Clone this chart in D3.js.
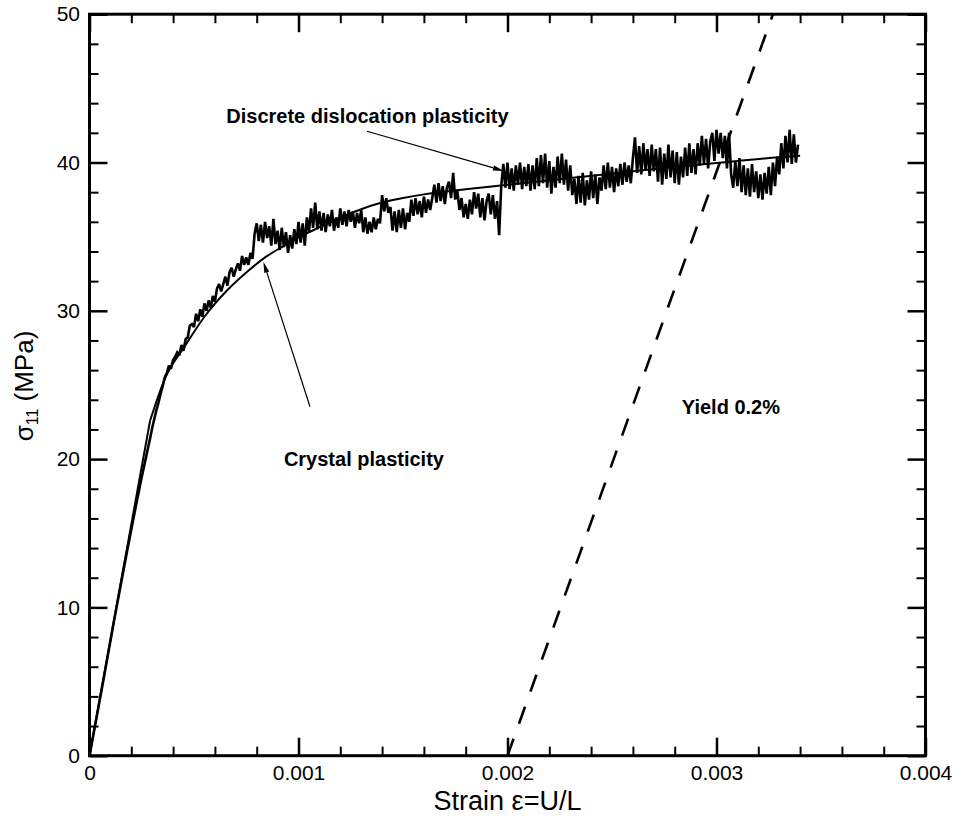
<!DOCTYPE html>
<html>
<head>
<meta charset="utf-8">
<script src="https://cdn.jsdelivr.net/npm/d3@7"></script>
<style>
  html, body { margin: 0; padding: 0; background: #fff; }
  svg { display: block; }
</style>
</head>
<body>
<svg id="chart" width="953" height="816"></svg>
<script>
// ---- axis ticks ----
const xMajorTicks = [0, 0.001, 0.002, 0.003, 0.004];
const xTickLabels = ["0", "0.001", "0.002", "0.003", "0.004"];
const xMinorTicks = [0.0002, 0.0004, 0.0006, 0.0008, 0.0012, 0.0014, 0.0016, 0.0018,
                     0.0022, 0.0024, 0.0026, 0.0028, 0.0032, 0.0034, 0.0036, 0.0038];
const yMajorTicks = [0, 10, 20, 30, 40, 50];
const yTickLabels = ["0", "10", "20", "30", "40", "50"];
const yMinorTicks = [2, 4, 6, 8, 12, 14, 16, 18, 22, 24, 26, 28, 32, 34, 36, 38, 42, 44, 46, 48];

// ---- crystal plasticity (smooth) : [strain, stress MPa] ----
// first segment is the linear elastic branch, the rest is the hardening curve
const crystalPlasticity = [
  [0, 0], [0.00029, 22.6], [0.00036, 25.4], [0.00046, 27.7], [0.00055, 29.6],
  [0.00066, 31.4], [0.00076, 32.7], [0.00084, 33.6], [0.00092, 34.3], [0.001, 34.95],
  [0.00108, 35.5], [0.0012, 36.3], [0.0013, 36.85], [0.0014, 37.3], [0.0015, 37.6],
  [0.0016, 37.85], [0.0018, 38.2], [0.002, 38.5], [0.0023, 38.95], [0.0025, 39.25],
  [0.0028, 39.7], [0.0031, 40.1], [0.0033, 40.35], [0.0034, 40.45]
];

// ---- discrete dislocation plasticity (noisy) : [strain, stress MPa] ----
const discreteDislocation = [
  [0, 0], [0.00006, 4.6], [0.00012, 9.3], [0.00018, 13.8], [0.00022, 16.7], [0.00025, 18.8],
  [0.00027, 20.1], [0.00029, 21.4], [0.0003, 22.1], [0.00031, 22.7], [0.00032, 23.3],
  [0.00033, 23.8], [0.00034, 24.4], [0.00035, 24.9], [0.00036, 25.5], [0.00037, 25.8],
  [0.00038, 26.3], [0.00039, 26.1], [0.0004, 26.7], [0.00041, 26.9], [0.00042, 27.2],
  [0.00043, 27.0], [0.00044, 27.7], [0.00045, 27.3], [0.00046, 28.1], [0.00047, 28.2],
  [0.00048, 29.0], [0.00049, 29.1], [0.0005, 28.9], [0.00051, 29.8], [0.00052, 29.3],
  [0.00053, 30.1], [0.00054, 29.6], [0.00055, 30.5], [0.00056, 30.0], [0.00057, 30.7],
  [0.00058, 30.2], [0.00059, 31.0], [0.0006, 30.6], [0.00061, 31.5], [0.00062, 31.8],
  [0.00063, 31.3], [0.00064, 31.8], [0.00065, 32.3], [0.00066, 31.7], [0.00067, 32.6],
  [0.00068, 32.9], [0.00069, 32.3], [0.0007, 32.8], [0.00071, 33.2], [0.00072, 32.7],
  [0.00073, 33.7], [0.00074, 33.1], [0.00075, 33.6], [0.00076, 33.1], [0.00077, 33.9],
  [0.00078, 33.5], [0.00079, 35.2], [0.0008, 35.9], [0.00081, 34.7], [0.00082, 35.8],
  [0.00083, 34.6], [0.00084, 36.0], [0.00085, 34.9], [0.00086, 35.7], [0.00087, 34.4],
  [0.00088, 36.2], [0.00089, 34.5], [0.0009, 35.4], [0.00091, 34.1], [0.00092, 35.6],
  [0.00093, 34.3], [0.00094, 35.3], [0.00095, 33.9], [0.00096, 35.1], [0.00097, 34.2],
  [0.00098, 35.5], [0.00099, 34.5], [0.001, 36.0], [0.00101, 34.6], [0.00102, 35.9],
  [0.00103, 34.4], [0.00104, 36.3], [0.00105, 35.3], [0.00106, 36.9], [0.00107, 35.6],
  [0.00108, 37.3], [0.00109, 35.5], [0.0011, 36.7], [0.00111, 35.4], [0.00112, 36.6],
  [0.00113, 35.3], [0.00114, 36.5], [0.00115, 35.7], [0.00116, 36.8], [0.00117, 35.4],
  [0.00118, 36.3], [0.00119, 35.6], [0.0012, 36.9], [0.00121, 35.8], [0.00122, 36.7],
  [0.00123, 35.7], [0.00124, 36.8], [0.00125, 36.0], [0.00126, 36.7], [0.00127, 35.6],
  [0.00128, 36.6], [0.00129, 35.9], [0.0013, 36.8], [0.00131, 35.3], [0.00132, 36.3],
  [0.00133, 35.2], [0.00134, 36.0], [0.00135, 35.3], [0.00136, 36.3], [0.00137, 35.5],
  [0.00138, 36.2], [0.00139, 35.9], [0.0014, 37.8], [0.00141, 36.7], [0.00142, 37.6],
  [0.00143, 36.6], [0.00144, 37.0], [0.00145, 35.4], [0.00146, 36.7], [0.00147, 35.3],
  [0.00148, 36.8], [0.00149, 35.6], [0.0015, 36.9], [0.00151, 35.5], [0.00152, 36.6],
  [0.00153, 36.0], [0.00154, 37.5], [0.00155, 36.4], [0.00156, 37.6], [0.00157, 36.5],
  [0.00158, 37.4], [0.00159, 36.3], [0.0016, 37.7], [0.00161, 36.6], [0.00162, 37.5],
  [0.00163, 36.8], [0.00164, 37.6], [0.00165, 38.5], [0.00166, 37.3], [0.00167, 38.6],
  [0.00168, 37.4], [0.00169, 38.4], [0.0017, 37.2], [0.00171, 38.3], [0.00172, 38.7],
  [0.00173, 37.6], [0.00174, 39.3], [0.00175, 37.5], [0.00176, 38.1], [0.00177, 36.8],
  [0.00178, 37.6], [0.00179, 36.3], [0.0018, 37.2], [0.00181, 36.2], [0.00182, 37.5],
  [0.00183, 36.5], [0.00184, 38.0], [0.00185, 36.9], [0.00186, 37.9], [0.00187, 36.3],
  [0.00188, 37.6], [0.00189, 36.1], [0.0019, 37.4], [0.00191, 37.9], [0.00192, 36.5],
  [0.00193, 37.8], [0.00194, 36.2], [0.00195, 37.4], [0.00196, 35.1], [0.00197, 38.4],
  [0.00198, 39.9], [0.00199, 38.3], [0.002, 40.0], [0.00201, 38.2], [0.00202, 39.6],
  [0.00203, 38.1], [0.00204, 39.8], [0.00205, 38.5], [0.00206, 40.0], [0.00207, 38.2],
  [0.00208, 39.7], [0.00209, 38.4], [0.0021, 39.9], [0.00211, 38.1], [0.00212, 39.8],
  [0.00213, 38.2], [0.00214, 40.3], [0.00215, 38.4], [0.00216, 40.5], [0.00217, 38.6],
  [0.00218, 40.6], [0.00219, 38.3], [0.0022, 40.1], [0.00221, 37.9], [0.00222, 39.7],
  [0.00223, 38.3], [0.00224, 40.4], [0.00225, 38.6], [0.00226, 40.6], [0.00227, 38.5],
  [0.00228, 40.2], [0.00229, 38.1], [0.0023, 39.8], [0.00231, 37.8], [0.00232, 38.9],
  [0.00233, 37.2], [0.00234, 39.1], [0.00235, 37.3], [0.00236, 39.3], [0.00237, 37.1],
  [0.00238, 38.8], [0.00239, 37.5], [0.0024, 39.4], [0.00241, 37.6], [0.00242, 39.2],
  [0.00243, 37.2], [0.00244, 39.0], [0.00245, 38.1], [0.00246, 39.8], [0.00247, 38.2],
  [0.00248, 40.0], [0.00249, 38.3], [0.0025, 39.7], [0.00251, 38.0], [0.00252, 39.6],
  [0.00253, 38.4], [0.00254, 39.9], [0.00255, 38.5], [0.00256, 40.0], [0.00257, 38.7],
  [0.00258, 39.8], [0.00259, 38.6], [0.0026, 40.3], [0.00261, 41.7], [0.00262, 39.3],
  [0.00263, 41.1], [0.00264, 39.2], [0.00265, 41.3], [0.00266, 39.5], [0.00267, 40.9],
  [0.00268, 39.1], [0.00269, 41.2], [0.0027, 39.4], [0.00271, 40.9], [0.00272, 38.7],
  [0.00273, 41.0], [0.00274, 38.5], [0.00275, 40.6], [0.00276, 38.9], [0.00277, 41.2],
  [0.00278, 39.0], [0.00279, 40.8], [0.0028, 38.6], [0.00281, 40.7], [0.00282, 38.5],
  [0.00283, 40.4], [0.00284, 39.0], [0.00285, 41.0], [0.00286, 39.1], [0.00287, 41.3],
  [0.00288, 39.3], [0.00289, 40.9], [0.0029, 39.2], [0.00291, 41.3], [0.00292, 39.8],
  [0.00293, 41.8], [0.00294, 39.9], [0.00295, 41.6], [0.00296, 39.6], [0.00297, 41.4],
  [0.00298, 42.0], [0.00299, 40.1], [0.003, 42.2], [0.00301, 40.6], [0.00302, 42.0],
  [0.00303, 40.3], [0.00304, 41.8], [0.00305, 39.6], [0.00306, 42.0], [0.00307, 39.2],
  [0.00308, 38.3], [0.00309, 40.1], [0.0031, 38.4], [0.00311, 40.3], [0.00312, 38.0],
  [0.00313, 39.8], [0.00314, 37.8], [0.00315, 39.6], [0.00316, 37.7], [0.00317, 39.9],
  [0.00318, 38.0], [0.00319, 39.4], [0.0032, 37.6], [0.00321, 39.2], [0.00322, 37.5],
  [0.00323, 39.3], [0.00324, 37.9], [0.00325, 39.7], [0.00326, 37.8], [0.00327, 40.0],
  [0.00328, 38.4], [0.00329, 40.4], [0.0033, 39.2], [0.00331, 41.3], [0.00332, 39.6],
  [0.00333, 41.8], [0.00334, 40.0], [0.00335, 42.2], [0.00336, 39.9], [0.00337, 41.9],
  [0.00338, 40.0], [0.00339, 41.2]
];

// ---- 0.2% offset yield line ----
const yieldOffsetLine = [[0.002, 0], [0.00327, 50]];

// ---- annotation text and leader arrows (data coordinates) ----
const labelTexts = ["Discrete dislocation plasticity", "Crystal plasticity", "Yield 0.2%"];
const labelPositions = [[0.00133, 42.65], [0.001313, 19.55], [0.003069, 23.05]];
const arrowStarts = [[0.001328, 42.11], [0.001055, 23.53]];
const arrowEnds = [[0.001983, 39.43], [0.000832, 33.31]];

// ---------------------------------------------------------------
const FONT = '"Liberation Sans", Arial, Helvetica, sans-serif';
const svg = d3.select("#chart");

const x = d3.scaleLinear().domain([0, 0.004]).range([89.5, 925.5]);
const y = d3.scaleLinear().domain([0, 50]).range([755.7, 14.2]);
const [x0, x1] = x.range();
const [y0, y1] = y.range();

function styleAxis(sel, width) {
  sel.select(".domain").remove();
  sel.selectAll(".tick line").attr("stroke", "#000").attr("stroke-width", width);
  sel.attr("font-family", FONT).attr("font-size", 21);
  sel.selectAll(".tick text").attr("fill", "#000");
}

// minor ticks on all four sides, pointing inward
const minorLen = 9, majorLen = 18;
svg.append("g").attr("transform", `translate(0,${y0})`)
  .call(d3.axisBottom(x).tickValues(xMinorTicks).tickSize(-minorLen).tickFormat(""))
  .call(s => styleAxis(s, 2));
svg.append("g").attr("transform", `translate(0,${y1})`)
  .call(d3.axisTop(x).tickValues(xMinorTicks).tickSize(-minorLen).tickFormat(""))
  .call(s => styleAxis(s, 2));
svg.append("g").attr("transform", `translate(${x0},0)`)
  .call(d3.axisLeft(y).tickValues(yMinorTicks).tickSize(-minorLen).tickFormat(""))
  .call(s => styleAxis(s, 2));
svg.append("g").attr("transform", `translate(${x1},0)`)
  .call(d3.axisRight(y).tickValues(yMinorTicks).tickSize(-minorLen).tickFormat(""))
  .call(s => styleAxis(s, 2));

// major ticks with labels on bottom and left
svg.append("g").attr("transform", `translate(0,${y0})`)
  .call(d3.axisBottom(x).tickValues(xMajorTicks).tickSize(-majorLen).tickPadding(9.5)
    .tickFormat((d, i) => xTickLabels[i]))
  .call(s => styleAxis(s, 2.5));
svg.append("g").attr("transform", `translate(0,${y1})`)
  .call(d3.axisTop(x).tickValues(xMajorTicks).tickSize(-majorLen).tickFormat(""))
  .call(s => styleAxis(s, 2.5));
svg.append("g").attr("transform", `translate(${x0},0)`)
  .call(d3.axisLeft(y).tickValues(yMajorTicks).tickSize(-majorLen).tickPadding(9.5)
    .tickFormat((d, i) => yTickLabels[i]))
  .call(s => styleAxis(s, 2.5));
svg.append("g").attr("transform", `translate(${x1},0)`)
  .call(d3.axisRight(y).tickValues(yMajorTicks).tickSize(-majorLen).tickFormat(""))
  .call(s => styleAxis(s, 2.5));

// plot frame
svg.append("rect")
  .attr("x", x0).attr("y", y1)
  .attr("width", x1 - x0).attr("height", y0 - y1)
  .attr("fill", "none").attr("stroke", "#000").attr("stroke-width", 3);

// axis titles
svg.append("text")
  .attr("x", (x0 + x1) / 2).attr("y", 810)
  .attr("text-anchor", "middle")
  .attr("font-family", FONT).attr("font-size", 27)
  .text("Strain \u03b5=U/L");

const yTitle = svg.append("text")
  .attr("transform", "translate(33,386) rotate(-90)")
  .attr("text-anchor", "middle")
  .attr("font-family", FONT).attr("font-size", 26);
yTitle.append("tspan").text("\u03c3");
yTitle.append("tspan").attr("font-size", 16).attr("dy", 5).text("11");
yTitle.append("tspan").attr("dy", -5).text(" (MPa)");

// curves
const line = d3.line().x(d => x(d[0])).y(d => y(d[1]));
const smooth = d3.line().x(d => x(d[0])).y(d => y(d[1])).curve(d3.curveMonotoneX);
const plot = svg.append("g");

plot.append("path")
  .datum(discreteDislocation)
  .attr("d", line)
  .attr("fill", "none").attr("stroke", "#000")
  .attr("stroke-width", 2.6).attr("stroke-linejoin", "miter").attr("stroke-miterlimit", 2);

// elastic branch (straight) + hardening branch (smooth)
plot.append("path")
  .datum(crystalPlasticity.slice(0, 2))
  .attr("d", line)
  .attr("fill", "none").attr("stroke", "#000").attr("stroke-width", 2);
plot.append("path")
  .datum(crystalPlasticity.slice(1))
  .attr("d", smooth)
  .attr("fill", "none").attr("stroke", "#000").attr("stroke-width", 2);

plot.append("path")
  .datum(yieldOffsetLine)
  .attr("d", line)
  .attr("fill", "none").attr("stroke", "#000")
  .attr("stroke-width", 2.6).attr("stroke-dasharray", "18,16");

// annotations
labelTexts.forEach((t, i) => {
  svg.append("text")
    .attr("x", x(labelPositions[i][0])).attr("y", y(labelPositions[i][1]))
    .attr("text-anchor", "middle")
    .attr("font-family", FONT).attr("font-size", 20).attr("font-weight", "bold")
    .text(t);
});

arrowStarts.forEach((s, i) => {
  const e = arrowEnds[i];
  const sx = x(s[0]), sy = y(s[1]), ex = x(e[0]), ey = y(e[1]);
  const ang = Math.atan2(ey - sy, ex - sx);
  const hl = 11, hw = 2.6;
  const bx = ex - hl * Math.cos(ang), by = ey - hl * Math.sin(ang);
  svg.append("line")
    .attr("x1", sx).attr("y1", sy).attr("x2", bx).attr("y2", by)
    .attr("stroke", "#000").attr("stroke-width", 1.2);
  svg.append("path")
    .attr("d", `M${ex},${ey}L${bx - hw * Math.sin(ang)},${by + hw * Math.cos(ang)}` +
               `L${bx + hw * Math.sin(ang)},${by - hw * Math.cos(ang)}Z`)
    .attr("fill", "#000");
});
</script>
</body>
</html>
